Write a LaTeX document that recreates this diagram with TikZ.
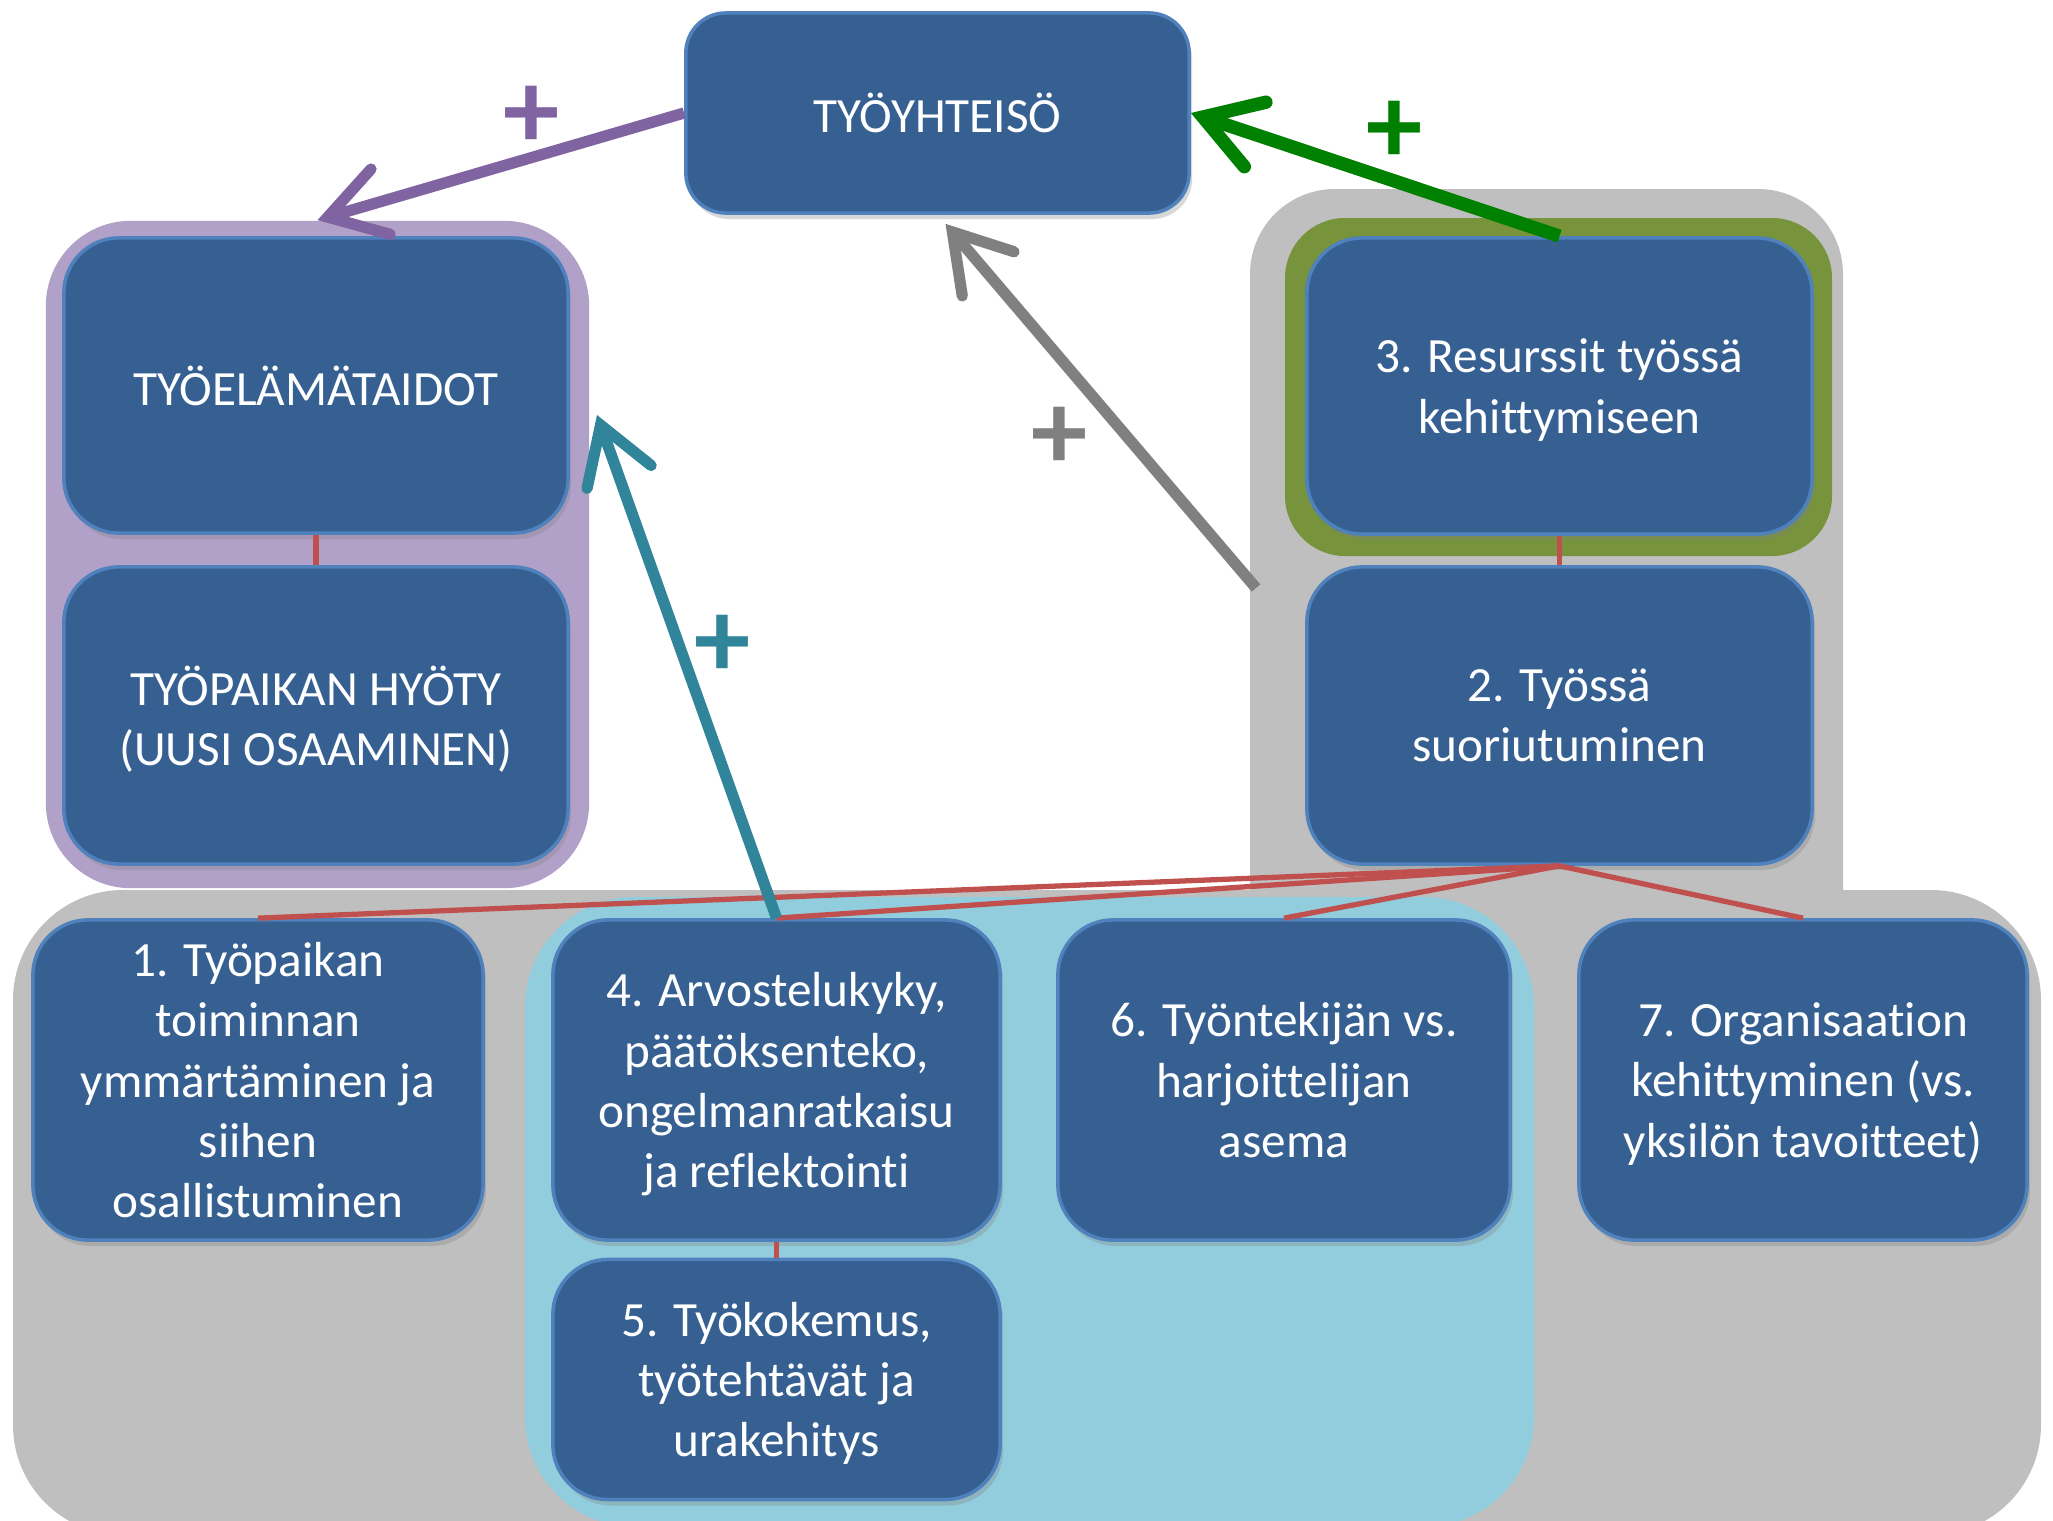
\documentclass[tikz,border=0pt]{standalone}
\usepackage{fontspec}
\setmainfont{Carlito}[Ligatures=NoCommon]
\usepackage{tikz}
\usetikzlibrary{arrows.meta, shapes, positioning, shadows}

\definecolor{boxfill}{RGB}{55,96,146}
\definecolor{boxline}{RGB}{79,129,189}
\definecolor{lilabg}{RGB}{177,160,199}
\definecolor{lilaarrow}{RGB}{128,100,162}
\definecolor{greybg}{RGB}{191,191,191}
\definecolor{greyarrow}{RGB}{128,128,128}
\definecolor{greenframe}{RGB}{119,147,60}
\definecolor{greenarrow}{RGB}{0,128,0}
\definecolor{bluebg}{RGB}{146,205,221}
\definecolor{tealarrow}{RGB}{49,133,155}
\definecolor{redline}{RGB}{192,80,77}

\begin{document}
\begin{tikzpicture}[x=0.01cm, y=-0.01cm,
  box/.style={draw=boxline, line width=1pt, fill=boxfill, text=white, align=center,
    rounded corners=0.55cm, inner sep=0pt, text depth=0pt, font=\fontsize{14}{17.1}\selectfont,
    drop shadow={shadow xshift=0.03cm, shadow yshift=-0.06cm, opacity=0.3}},
  redln/.style={draw=redline, line width=1.5pt},
  plusarrow/.style={line width=3.2pt, -{Straight Barb[length=5.5mm, width=6.8mm, line cap=round, line join=miter]}},
  plus/.style={font=\fontsize{32}{32}\selectfont\bfseries, inner sep=0pt}]
\useasboundingbox (0,0) rectangle (2053,1521);
\clip (0,0) rectangle (2053,1521);
\fill [white] (0,0) rectangle (2053,1521);

\fill [greybg, rounded corners=0.85cm] (1250,189) rectangle (1843,1000);
\fill [greybg, rounded corners=1.1cm] (13,890) rectangle (2041,1535);
\fill [bluebg, rounded corners=1.1cm] (525,897) rectangle (1534,1527);
\node [fill=lilabg, rounded corners=0.85cm, inner sep=0pt, minimum width=5.43cm, minimum height=6.67cm] (lila) at (317.5,554.5) {};
\fill [greenframe, rounded corners=0.6cm] (1285,218) rectangle (1832,556);

\coordinate (gstart) at (1256,588);
\coordinate (tealend) at (597,415);

\node [box, minimum width=5.03cm, minimum height=2cm, rounded corners=0.4cm] (ty) at (937.5,113) {TYÖYHTEISÖ};
\node [box, minimum width=5.04cm, minimum height=2.95cm] (taidot) at (316,385.5) {TYÖELÄMÄTAIDOT};
\node [box, minimum width=5.04cm, minimum height=2.97cm] (hyoty) at (316,715.5) {TYÖPAIKAN HYÖTY\\(UUSI OSAAMINEN)};
\node [box, minimum width=5.05cm, minimum height=2.96cm] (res3) at (1559.5,386) {3. Resurssit työssä\\kehittymiseen};
\node [box, minimum width=5.05cm, minimum height=2.97cm] (suor2) at (1559.5,715.5) {2. Työssä\\suoriutuminen};
\node [box, minimum width=4.5cm, minimum height=3.2cm] (ymm1) at (258,1080) {1. Työpaikan\\toiminnan\\ymmärtäminen ja\\siihen\\osallistuminen};
\node [box, minimum width=4.47cm, minimum height=3.2cm] (arvo4) at (776.5,1080) {4. Arvostelukyky,\\päätöksenteko,\\ongelmanratkaisu\\ja reflektointi};
\node [box, minimum width=4.47cm, minimum height=2.4cm] (koke5) at (776.5,1379.5) {5. Työkokemus,\\työtehtävät ja\\urakehitys};
\node [box, minimum width=4.52cm, minimum height=3.2cm] (asema6) at (1284,1080) {6. Työntekijän vs.\\harjoittelijan\\asema};
\node [box, minimum width=4.48cm, minimum height=3.2cm] (org7) at (1803,1080) {7. Organisaation\\kehittyminen (vs.\\yksilön tavoitteet)};

\draw [redln] (taidot.south) -- (hyoty.north);
\draw [redln] (res3.south) -- (suor2.north);
\draw [redln] (arvo4.south) -- (koke5.north);
\draw [redln] (suor2.south) -- (ymm1.north);
\draw [redln] (suor2.south) -- (arvo4.north);
\draw [redln] (suor2.south) -- (asema6.north);
\draw [redln] (suor2.south) -- (org7.north);

\draw [plusarrow, lilaarrow] (ty.west) -- (lila.north);
\draw [plusarrow, greenarrow, line width=3.8pt] (res3.north) -- (ty.east);
\draw [plusarrow, greyarrow] (gstart) -- ([xshift=0.08cm, yshift=-0.09cm]ty.south);
\draw [plusarrow, tealarrow] (arvo4.north) -- (tealend);

\node [plus, text=lilaarrow] (pluslila) at (532,117) {+};
\node [plus, text=greenarrow] (plusgreen) at (1395,132) {+};
\node [plus, text=greyarrow] (plusgrey) at (1060,438) {+};
\node [plus, text=tealarrow] (plusteal) at (723,646) {+};
\end{tikzpicture}
\end{document}
